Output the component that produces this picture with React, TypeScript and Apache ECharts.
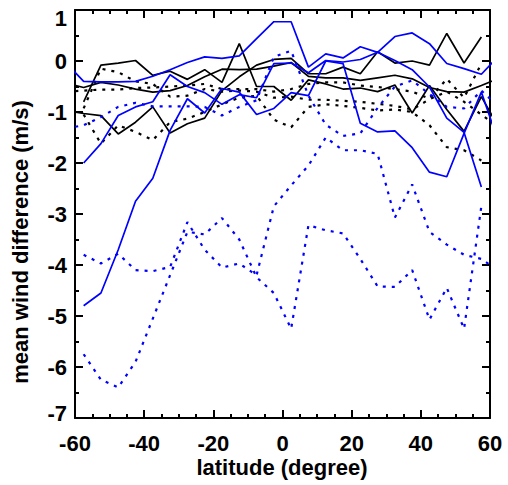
import React, { useEffect, useRef } from 'react';
import * as echarts from 'echarts';

const lat = [-62.5, -57.5, -52.5, -47.5, -42.5, -37.5, -32.5, -27.5, -22.5, -17.5, -12.5, -7.5, -2.5, 2.5, 7.5, 12.5, 17.5, 22.5, 27.5, 32.5, 37.5, 42.5, 47.5, 52.5, 57.5, 62.5];

const xTicks = [-60, -40, -20, 0, 20, 40, 60];
const yTicks = [-7, -6, -5, -4, -3, -2, -1, 0, 1];

// black solid
const blackSolid1 = [null, -0.8, -0.08, -0.04, 0.01, -0.28, -0.2, -0.36, -0.17, -0.42, 0.34, -0.5, -0.5, -0.77, -0.37, -0.45, -0.55, -0.53, -0.6, -0.47, -1.02, -0.48, -0.95, -1.38, -0.7, -1.3];
const blackSolid2 = [-0.44, -0.52, -0.42, -0.47, -0.55, -0.61, -0.58, -0.48, -0.31, -0.16, -0.17, -0.16, -0.1, -0.03, -0.3, -0.33, -0.33, -0.38, -0.33, -0.28, -0.35, -0.52, -0.6, -0.61, -0.48, -0.34];
const blackSolid3 = [-0.97, -1.03, -1.07, -1.43, -1.2, -0.9, -1.41, -1.23, -1.12, -0.58, -0.31, -0.08, 0.03, 0.05, -0.25, -0.25, -0.12, -0.25, 0.18, -0.04, 0.0, -0.08, 0.54, -0.04, 0.47, null];

// black dotted
const blackDot1 = [-0.6, -0.58, -0.56, -0.56, -0.53, -0.52, -0.5, -0.48, -0.45, -0.55, -0.55, -0.55, -0.6, -0.55, -0.45, -0.42, -0.42, -0.48, -0.51, -0.55, -0.6, -0.74, -0.35, -0.72, -0.05, null];
const blackDot2 = [null, -0.93, -0.15, -0.22, -0.4, -0.45, -0.7, -0.68, -0.55, -0.6, -0.58, -0.6, -0.72, -0.7, -0.76, -0.76, -0.78, -0.8, -0.84, -0.88, -0.95, -0.75, -0.6, -0.8, -1.05, -1.3];
const blackDot3 = [null, -1.05, -1.62, -1.26, -1.39, -1.55, -1.2, -1.13, -1.0, -0.85, -0.72, -0.68, -1.15, -1.3, -0.9, -0.85, -0.88, -0.92, -0.97, -0.95, -1.0, -1.26, -1.69, -1.75, -1.95, null];

// blue solid
const blueSolid1 = [null, -4.8, -4.55, -3.7, -2.75, -2.3, -1.36, -0.74, -1.02, -0.54, -0.61, -1.05, -0.93, -0.62, -0.68, 0.0, -0.05, -1.22, -1.39, -1.37, -1.7, -2.18, -2.27, -1.42, -0.61, -1.6];
const blueSolid2 = [-0.04, -0.4, -0.41, -0.41, -0.4, -0.3, -0.17, -0.03, 0.08, 0.05, 0.1, 0.44, 0.77, 0.77, -0.12, 0.14, 0.06, 0.28, 0.17, 0.48, 0.55, 0.34, -0.05, -0.15, -0.26, 0.1];
const blueSolid3 = [null, -2.0, -1.62, -1.07, -0.9, -0.8, -0.27, -0.5, -0.62, -0.85, -0.66, -0.72, -0.05, -0.04, -0.23, 0.01, -0.02, 0.03, 0.17, 0.01, -0.17, -0.51, -1.12, -1.4, -2.47, null];

// blue dotted
const blueDot1 = [null, -5.75, -6.25, -6.4, -5.9, -5.05, -4.2, -3.35, -3.4, -3.08, -3.5, -4.24, -4.55, -5.25, -3.22, -3.32, -3.38, -3.88, -4.42, -4.43, -4.1, -5.07, -4.45, -5.25, -2.85, null];
const blueDot2 = [null, -3.8, -3.97, -3.78, -4.1, -4.12, -4.04, -3.16, -3.7, -4.05, -3.97, -4.2, -2.85, -2.44, -2.05, -1.5, -1.75, -1.75, -1.82, -3.07, -2.42, -3.35, -3.6, -3.8, -3.88, -4.12];
const blueDot3 = [-1.32, -1.26, -1.1, -0.9, -0.82, -0.89, -0.89, -0.89, -0.9, -1.07, -0.9, -0.77, 0.08, 0.2, -0.68, -1.25, -1.47, -1.42, -0.92, -0.5, -0.38, -0.65, -0.9, -0.93, -0.58, -0.9];

const FONT = '"Liberation Sans", Arial, Helvetica, sans-serif';
const BLUE = '#0000ff';

function pairs(vals: (number | null)[]) {
  const out: [number, number][] = [];
  vals.forEach((v, i) => {
    if (v !== null) out.push([lat[i], v]);
  });
  return out;
}

function mk(vals: (number | null)[], color: string, dotted: boolean) {
  return {
    type: 'line',
    data: pairs(vals),
    showSymbol: false,
    symbol: 'none',
    clip: true,
    xAxisIndex: 0,
    yAxisIndex: 0,
    lineStyle: dotted
      ? { color, width: 2.2, type: [3, 6], cap: 'butt' }
      : { color, width: 1.7, type: 'solid' },
    emphasis: { disabled: true },
    silent: true,
  };
}

const axisCommon = {
  axisLine: { show: true, onZero: false, lineStyle: { color: '#000', width: 2 } },
  splitLine: { show: false },
};

export default function App() {
  const ref = useRef<HTMLDivElement>(null);
  useEffect(() => {
    const chart = echarts.init(ref.current!, null, { renderer: 'svg' });
    const xBase = {
      type: 'value',
      min: xTicks[0],
      max: xTicks[xTicks.length - 1],
      interval: xTicks[1] - xTicks[0],
      ...axisCommon,
      axisTick: { show: true, inside: true, length: 8, lineStyle: { color: '#000', width: 2 } },
      minorTick: { show: true, splitNumber: 4, length: 4, lineStyle: { color: '#000', width: 2 } },
    };
    const yBase = {
      type: 'value',
      min: yTicks[0],
      max: yTicks[yTicks.length - 1],
      interval: 1,
      ...axisCommon,
      axisTick: { show: true, inside: true, length: 8, lineStyle: { color: '#000', width: 2 } },
      minorTick: { show: true, splitNumber: 2, length: 4, lineStyle: { color: '#000', width: 2 } },
    };
    const labelStyle = { color: '#000', fontSize: 22, fontWeight: 'bold', fontFamily: FONT };
    const yMax = yTicks[yTicks.length - 1];
    const yMin = yTicks[0];
    chart.setOption({
      animation: false,
      backgroundColor: '#fff',
      grid: { left: 75, right: 18, top: 10, bottom: 67, containLabel: false },
      xAxis: [
        { ...xBase, position: 'bottom', axisLabel: { ...labelStyle, margin: 14 } },
        { ...xBase, position: 'top', axisLabel: { show: false } },
      ],
      yAxis: [
        {
          ...yBase,
          position: 'left',
          axisLabel: {
            ...labelStyle,
            margin: 8,
            formatter: (v: number) =>
              v === yMax ? `{t|${v}}` : v === yMin ? `{b|${v}}` : `{n|${v}}`,
            rich: {
              n: { ...labelStyle },
              t: { ...labelStyle, padding: [16, 0, 0, 0] },
              b: { ...labelStyle, padding: [0, 0, 10, 0] },
            },
          },
        },
        { ...yBase, position: 'right', axisLabel: { show: false } },
      ],
      series: [
        mk(blackSolid1, '#000', false),
        mk(blackSolid2, '#000', false),
        mk(blackSolid3, '#000', false),
        mk(blackDot1, '#000', true),
        mk(blackDot2, '#000', true),
        mk(blackDot3, '#000', true),
        mk(blueDot1, BLUE, true),
        mk(blueDot2, BLUE, true),
        mk(blueDot3, BLUE, true),
        mk(blueSolid1, BLUE, false),
        mk(blueSolid2, BLUE, false),
        mk(blueSolid3, BLUE, false),
      ],
      graphic: [
        {
          type: 'text',
          x: 282,
          y: 467,
          silent: true,
          style: {
            text: 'latitude (degree)',
            font: `bold 22px ${FONT}`,
            fill: '#000',
            textAlign: 'center',
            textVerticalAlign: 'middle',
          },
        },
        {
          type: 'text',
          x: 20,
          y: 242,
          rotation: Math.PI / 2,
          silent: true,
          style: {
            text: 'mean wind difference (m/s)',
            font: `bold 22px ${FONT}`,
            fill: '#000',
            textAlign: 'center',
            textVerticalAlign: 'middle',
          },
        },
      ],
    });
    return () => chart.dispose();
  }, []);
  return (
    <div
      ref={ref}
      style={{ position: 'fixed', left: 0, top: 0, width: 508, height: 485, background: '#fff' }}
    />
  );
}
